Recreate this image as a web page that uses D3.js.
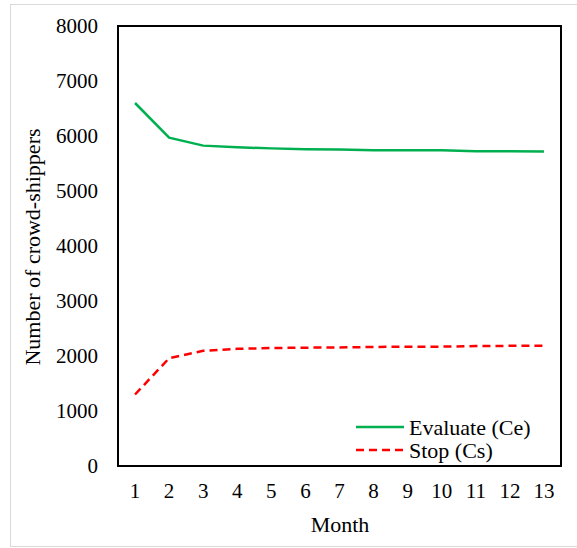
<!DOCTYPE html>
<html>
<head>
<meta charset="utf-8">
<script src="https://cdn.jsdelivr.net/npm/d3@7"></script>
<style>
  body { margin: 0; background: #fff; }
  text { font-family: "Liberation Serif", "Times New Roman", serif; fill: #000; }
</style>
</head>
<body>
<div id="graph"></div>
<script>
var w = 577
var h = 548

// data
var months = [1, 2, 3, 4, 5, 6, 7, 8, 9, 10, 11, 12, 13]
var evaluate = [6600, 5970, 5825, 5795, 5775, 5760, 5755, 5740, 5740, 5740, 5722, 5722, 5720]
var stop = [1300, 1960, 2095, 2130, 2145, 2152, 2155, 2165, 2170, 2170, 2180, 2185, 2188]
var yTicks = [0, 1000, 2000, 3000, 4000, 5000, 6000, 7000, 8000]
var seriesNames = ["Evaluate (Ce)", "Stop (Cs)"]

var margin = { left: 118, right: 16, top: 26, bottom: 82 }
var fs = 22

var svg = d3.select("#graph").append("svg")
    .attr("width", w)
    .attr("height", h)

// light outer frame (right side runs past the picture)
svg.append("rect")
    .attr("x", 10.5)
    .attr("y", 4.5)
    .attr("width", 580)
    .attr("height", 542)
    .attr("fill", "none")
    .attr("stroke", "#d9d9d9")

var x = d3.scaleBand()
    .domain(months)
    .range([margin.left, w - margin.right])

var y = d3.scaleLinear()
    .domain([0, 8000])
    .range([h - margin.bottom, margin.top])

// y axis labels (no tick marks)
var yAxis = svg.append("g")
    .attr("transform", "translate(" + (margin.left - 20) + ",0)")
    .call(d3.axisLeft(y).tickValues(yTicks).tickFormat(d3.format("d")).tickSize(0).tickPadding(0))
yAxis.select(".domain").remove()
yAxis.selectAll("text")
    .attr("font-size", 21)
    .attr("font-family", "Liberation Serif")
    .attr("fill", "#000")

// x axis labels
var xAxis = svg.append("g")
    .attr("transform", "translate(0," + (h - margin.bottom + 17) + ")")
    .call(d3.axisBottom(x).tickSize(0).tickPadding(0))
xAxis.select(".domain").remove()
xAxis.selectAll("text")
    .attr("font-size", 21)
    .attr("font-family", "Liberation Serif")
    .attr("fill", "#000")

// plot border
svg.append("rect")
    .attr("x", margin.left)
    .attr("y", margin.top)
    .attr("width", w - margin.left - margin.right)
    .attr("height", h - margin.top - margin.bottom)
    .attr("fill", "none")
    .attr("stroke", "#000")
    .attr("stroke-width", 2)

var line = d3.line()
    .x(function (d, i) { return x(months[i]) + x.bandwidth() / 2 })
    .y(function (d) { return y(d) })

svg.append("path")
    .datum(evaluate)
    .attr("d", line)
    .attr("fill", "none")
    .attr("stroke", "#00b050")
    .attr("stroke-width", 2.5)

svg.append("path")
    .datum(stop)
    .attr("d", line)
    .attr("fill", "none")
    .attr("stroke", "#ff0000")
    .attr("stroke-width", 2.5)
    .attr("stroke-dasharray", "8,5")

// legend
var legend = svg.append("g")
var legY = [427, 450]
var legStroke = ["#00b050", "#ff0000"]
var legDash = [null, "8,5"]
seriesNames.forEach(function (name, i) {
    legend.append("line")
        .attr("x1", 356)
        .attr("x2", 404)
        .attr("y1", legY[i])
        .attr("y2", legY[i])
        .attr("stroke", legStroke[i])
        .attr("stroke-width", 2.5)
        .attr("stroke-dasharray", legDash[i])
    legend.append("text")
        .attr("x", 409)
        .attr("y", legY[i] + 7.5)
        .attr("font-size", fs)
        .text(name)
})

// axis titles
svg.append("text")
    .attr("x", 340)
    .attr("y", 532)
    .attr("text-anchor", "middle")
    .attr("font-size", fs)
    .text("Month")

svg.append("text")
    .attr("transform", "translate(40," + 247 + ") rotate(-90)")
    .attr("text-anchor", "middle")
    .attr("font-size", fs)
    .text("Number of crowd-shippers")
</script>
</body>
</html>
